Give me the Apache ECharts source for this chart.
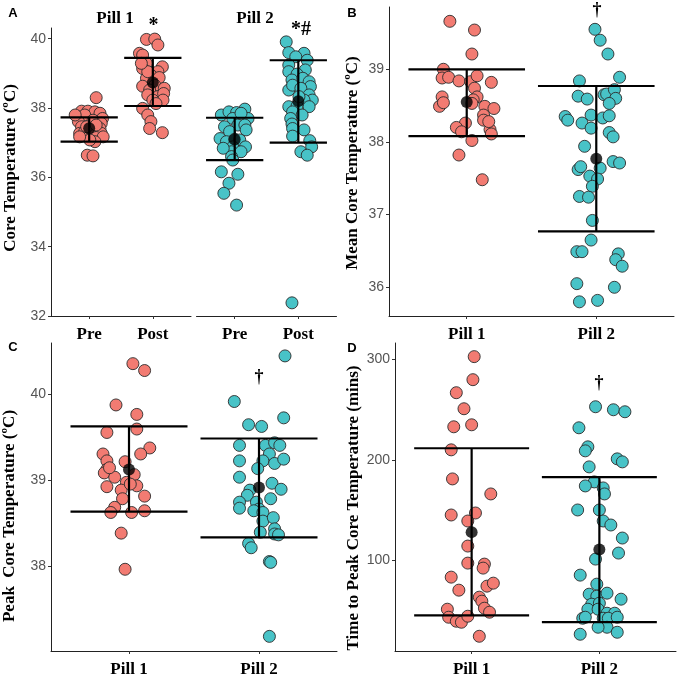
<!DOCTYPE html>
<html>
<head>
<meta charset="utf-8">
<script src="https://cdn.jsdelivr.net/npm/echarts@6/dist/echarts.min.js"></script>
<style>html,body{margin:0;padding:0;background:#fff}#chart{width:680px;height:676px}</style>
</head>
<body>
<div id="chart"></div>
<script>
// ---- panel A: core temperature, pre / post, per pill ----
const aCats = ['Pre', 'Post'];
const aP1PreVal = [38.30,37.91,37.91,37.89,37.85,37.75,37.80,37.70,37.61,37.65,37.56,37.46,37.41,37.27,37.32,37.27,37.27,37.15,37.17,37.03,37.08,36.64,36.62,37.17,37.46,37.51,37.80];
const aP1PreJit = [0.11,-0.12,-0.02,0.09,0.17,-0.17,-0.07,0.21,-0.17,0.06,0.19,-0.12,0.17,-0.15,-0.07,0.06,0.19,0.11,0.22,0.09,0.01,-0.03,0.06,-0.15,-0.04,0.11,-0.22];
const aP1PostVal = [39.98,39.99,39.82,39.58,39.53,39.29,39.14,39.19,39.05,38.95,38.88,38.86,38.63,38.66,38.57,38.52,38.38,38.33,38.42,38.23,38.23,37.99,37.80,37.61,37.41,37.29,38.13,39.05,39.29];
const aP1PostJit = [-0.10,0.03,0.08,-0.21,-0.16,-0.10,-0.16,0.15,0.08,-0.03,0.10,-0.10,-0.16,0.03,0.18,-0.05,-0.08,0.08,0.17,0.16,0.00,-0.16,-0.08,-0.03,-0.05,0.15,0.05,-0.08,-0.18];
const aP2PreVal = [37.97,37.80,37.89,37.87,37.70,37.70,37.46,37.51,37.51,37.32,37.37,37.12,37.03,37.10,37.08,36.88,36.88,36.74,36.74,36.84,36.60,36.50,36.16,36.09,35.83,35.54,35.20,37.85];
const aP2PreJit = [0.16,-0.21,-0.09,0.03,-0.03,0.21,-0.16,0.05,0.16,-0.08,0.18,-0.23,-0.13,0.00,0.08,0.17,-0.03,-0.05,0.10,-0.18,-0.05,-0.03,-0.21,0.05,-0.09,-0.17,0.03,0.10];
const aP2PostVal = [39.91,39.60,39.58,39.48,39.38,39.24,39.10,39.05,38.98,38.81,38.86,38.76,38.62,38.52,38.66,38.57,38.38,38.23,38.23,38.04,38.06,38.04,37.89,37.80,37.70,37.54,37.37,37.41,37.19,37.06,36.88,36.74,36.64,32.38,38.33];
const aP2PostJit = [-0.19,-0.15,0.09,-0.04,0.14,-0.15,0.11,-0.15,-0.02,-0.10,0.07,0.17,0.19,-0.15,-0.09,0.04,0.17,0.22,0.09,-0.15,-0.02,0.17,-0.09,0.06,-0.12,-0.10,0.09,-0.09,-0.09,0.18,0.21,0.04,0.14,-0.10,0.01];
// mean and error bar ends: P1 Pre, P1 Post, P2 Pre, P2 Post
const aMean = [37.42, 38.74, 37.09, 38.20];
const aLow = [37.03, 38.06, 36.50, 37.00];
const aHigh = [37.73, 39.45, 37.72, 39.38];
const aTicks = [32, 34, 36, 38, 40];

// ---- panel B: mean core temperature ----
const pillCats = ['Pill 1', 'Pill 2'];
const bP1Val = [39.66,39.54,39.21,39.00,38.88,38.89,38.84,38.83,38.91,38.82,38.74,38.62,38.62,38.49,38.54,38.58,38.53,38.49,38.46,38.37,38.30,38.26,38.20,38.14,38.17,38.11,38.02,37.82,37.48,38.28];
const bP1Jit = [-0.13,0.06,0.04,-0.18,-0.19,-0.14,-0.06,0.03,0.08,0.19,0.06,0.08,-0.19,-0.21,-0.18,0.05,0.04,0.14,0.21,0.13,0.13,-0.01,-0.08,-0.04,0.18,0.19,0.04,-0.06,0.12,0.17];
const bP2Val = [39.55,39.40,39.21,38.89,38.84,38.63,38.59,38.65,38.66,38.72,38.60,38.53,38.35,38.30,38.26,38.37,38.19,38.33,38.36,38.13,38.07,37.94,37.62,37.66,37.53,37.64,37.49,37.39,37.73,37.71,37.25,37.24,36.92,36.65,36.49,36.49,36.46,36.38,36.29,36.05,36.00,35.80,35.82];
const bP2Jit = [-0.01,0.03,0.09,0.18,-0.13,-0.14,-0.07,0.06,0.08,0.14,0.15,0.10,-0.24,-0.22,-0.11,-0.04,-0.04,0.05,0.10,0.10,0.13,-0.09,-0.14,-0.12,-0.05,0.03,0.01,-0.03,0.13,0.18,-0.13,-0.06,-0.03,-0.04,-0.15,-0.11,0.17,0.15,0.20,-0.15,0.14,-0.13,0.01];
const bMean = [38.55, 37.77];
const bLow = [38.08, 36.77];
const bHigh = [39.00, 38.77];
const bTicks = [36, 37, 38, 39];

// ---- panel C: peak core temperature ----
const cP1Val = [40.35,40.27,39.87,39.76,39.59,39.55,39.37,39.30,39.30,39.22,39.21,39.12,39.08,39.03,39.06,38.97,38.92,38.93,38.88,38.78,38.81,38.68,38.62,38.62,38.64,38.38,37.96,38.95,39.14];
const cP1Jit = [0.03,0.12,-0.10,0.06,0.06,-0.17,0.16,0.09,-0.20,-0.17,-0.03,-0.17,-0.19,-0.11,0.04,-0.02,-0.17,0.06,-0.06,-0.05,0.12,-0.11,-0.14,0.02,0.12,-0.06,-0.03,0.01,-0.15];
const cP2Val = [40.44,39.91,39.72,39.64,39.62,39.40,39.40,39.43,39.40,39.30,39.22,39.22,39.19,39.24,39.13,39.03,38.96,38.88,38.82,38.89,38.78,38.74,38.67,38.74,38.66,38.64,38.62,38.52,38.56,38.43,38.39,38.37,38.26,38.21,38.05,38.04,37.18,38.36];
const cP2Jit = [0.20,-0.19,0.19,-0.08,0.02,-0.15,0.05,0.12,0.16,0.08,-0.15,0.03,0.12,0.19,-0.01,-0.15,0.10,-0.07,-0.09,0.17,0.09,-0.15,-0.15,-0.02,0.00,-0.04,0.03,0.03,0.11,0.12,0.01,0.12,-0.08,-0.06,0.08,0.09,0.08,0.15];
const cMean = [39.12, 38.91];
const cLow = [38.63, 38.33];
const cHigh = [39.62, 39.48];
const cTicks = [38, 39, 40];

// ---- panel D: time to peak core temperature (mins) ----
const dP1Val = [303,280,267,251,233,235,210,181,166,145,147,139,114,97,96,92,83,74,77,70,63,59,52,48,51,43,39,38,44,24];
const dP1Jit = [0.02,0.01,-0.12,-0.06,-0.14,0.00,-0.16,-0.15,0.15,-0.16,0.03,-0.03,-0.03,-0.03,0.10,0.09,-0.16,0.12,0.17,-0.10,0.06,0.08,0.10,0.14,-0.19,-0.18,-0.12,-0.08,-0.03,0.06];
const dP2Val = [253,250,248,232,213,209,201,198,193,178,174,172,166,150,150,139,135,122,107,101,85,76,66,64,67,61,56,57,51,51,47,47,42,42,42,43,33,33,26,28,43];
const dP2Jit = [-0.03,0.11,0.20,-0.16,-0.09,-0.11,0.14,0.18,-0.08,-0.04,-0.11,0.03,0.04,-0.17,0.00,0.03,0.09,0.18,0.15,-0.03,-0.15,-0.02,-0.08,-0.02,0.06,0.17,-0.06,0.00,-0.09,-0.01,0.06,0.12,-0.13,0.03,0.07,0.14,0.06,-0.01,-0.15,0.14,-0.11];
const dMean = [127.9, 110.6];
const dLow = [44.8, 38.2];
const dHigh = [211.6, 182.7];
const dTicks = [100, 200, 300];

const RED = '#F27B72', TEAL = '#48C3C7';
const HALF = 0.45; // half width of the error bar whiskers
const SERIF = '"Liberation Serif", "DejaVu Serif", serif';
const SANS = '"Liberation Sans", Arial, sans-serif';

function pts(cat, vals, jit) {
	return vals.map(function (v, i) { return [cat + jit[i], v]; });
}
function summary(cats, mean, lo, hi) {
	return cats.map(function (c, i) { return [c, lo[i], hi[i], mean[i]]; });
}

function renderBar(params, api) {
	const x = api.value(0), lo = api.value(1), hi = api.value(2);
	const t = api.coord([x, hi]), b = api.coord([x, lo]);
	const tl = api.coord([x - HALF, hi]), tr = api.coord([x + HALF, hi]);
	const bl = api.coord([x - HALF, lo]), br = api.coord([x + HALF, lo]);
	const st = {stroke: '#000', lineWidth: 2.2};
	return {type: 'group', children: [
		{type: 'line', shape: {x1: t[0], y1: t[1], x2: b[0], y2: b[1]}, style: st},
		{type: 'line', shape: {x1: tl[0], y1: tl[1], x2: tr[0], y2: tr[1]}, style: st},
		{type: 'line', shape: {x1: bl[0], y1: bl[1], x2: br[0], y2: br[1]}, style: st}
	]};
}

function dots(gi, data, color) {
	return {type: 'scatter', xAxisIndex: gi, yAxisIndex: gi, data: data, symbolSize: 12, silent: true, z: 2,
		itemStyle: {color: color, borderColor: '#2b2b2b', borderWidth: 0.9, opacity: 1}};
}
function bars(gi, rows) {
	return {type: 'custom', xAxisIndex: gi, yAxisIndex: gi, data: rows, renderItem: renderBar, silent: true, z: 3,
		encode: {x: 0, y: [1, 2]}};
}
function means(gi, rows) {
	return {type: 'scatter', xAxisIndex: gi, yAxisIndex: gi, silent: true, z: 4, symbolSize: 12,
		data: rows.map(function (r) { return [r[0], r[3]]; }), itemStyle: {color: '#000'}};
}

function xAx(gi, cats) {
	return {type: 'value', gridIndex: gi, min: 0.4, max: 2.6,
		axisLine: {onZero: false, lineStyle: {color: '#222', width: 1}},
		axisTick: {customValues: [1, 2], length: 3, lineStyle: {color: '#333'}},
		axisLabel: {customValues: [1, 2], formatter: function (v) { return cats[Math.round(v) - 1]; },
			fontFamily: SERIF, fontWeight: 'bold', fontSize: 17, color: '#000', margin: 10},
		splitLine: {show: false}};
}
function yAx(gi, min, max, ticks, hidden) {
	return {type: 'value', gridIndex: gi, min: min, max: max, show: !hidden,
		axisLine: {show: true, onZero: false, lineStyle: {color: '#222', width: 1}},
		axisTick: {show: true, customValues: ticks, length: 3, lineStyle: {color: '#333'}},
		axisLabel: {customValues: ticks, fontFamily: SANS, fontSize: 14, color: '#555', margin: 5},
		splitLine: {show: false}};
}

function txt(x, y, text, size, family, rot) {
	return {type: 'text', x: x, y: y, rotation: rot || 0, z: 10,
		style: {text: text, font: 'bold ' + size + 'px ' + family, fill: '#000', align: 'center', verticalAlign: 'middle'}};
}

const aRows1 = summary([1, 2], aMean.slice(0, 2), aLow.slice(0, 2), aHigh.slice(0, 2));
const aRows2 = summary([1, 2], aMean.slice(2), aLow.slice(2), aHigh.slice(2));
const bRows = summary([1, 2], bMean, bLow, bHigh);
const cRows = summary([1, 2], cMean, cLow, cHigh);
const dRows = summary([1, 2], dMean, dLow, dHigh);

const option = {
	backgroundColor: '#fff',
	animation: false,
	grid: [
		{left: 51, top: 28, width: 140, height: 288, outerBoundsMode: 'none'},
		{left: 196.5, top: 28, width: 140, height: 288, outerBoundsMode: 'none'},
		{left: 389, top: 7, width: 285, height: 309, outerBoundsMode: 'none'},
		{left: 51, top: 343, width: 286, height: 308, outerBoundsMode: 'none'},
		{left: 395, top: 343, width: 281, height: 308, outerBoundsMode: 'none'}
	],
	xAxis: [xAx(0, aCats), xAx(1, aCats), xAx(2, pillCats), xAx(3, pillCats), xAx(4, pillCats)],
	yAxis: [
		yAx(0, 32, 40.31, aTicks),
		yAx(1, 32, 40.31, aTicks, true),
		yAx(2, 35.605, 39.857, bTicks),
		yAx(3, 37.01, 40.59, cTicks),
		yAx(4, 9.3, 316.6, dTicks)
	],
	series: [
		dots(0, pts(1, aP1PreVal, aP1PreJit), RED),
		dots(0, pts(2, aP1PostVal, aP1PostJit), RED),
		dots(1, pts(1, aP2PreVal, aP2PreJit), TEAL),
		dots(1, pts(2, aP2PostVal, aP2PostJit), TEAL),
		bars(0, aRows1), means(0, aRows1),
		bars(1, aRows2), means(1, aRows2),

		dots(2, pts(1, bP1Val, bP1Jit), RED),
		dots(2, pts(2, bP2Val, bP2Jit), TEAL),
		bars(2, bRows), means(2, bRows),

		dots(3, pts(1, cP1Val, cP1Jit), RED),
		dots(3, pts(2, cP2Val, cP2Jit), TEAL),
		bars(3, cRows), means(3, cRows),

		dots(4, pts(1, dP1Val, dP1Jit), RED),
		dots(4, pts(2, dP2Val, dP2Jit), TEAL),
		bars(4, dRows), means(4, dRows)
	],
	graphic: [
		// panel letters
		txt(13, 13, 'A', 13, SANS), txt(352, 13, 'B', 13, SANS),
		txt(13, 347, 'C', 13, SANS), txt(352, 348, 'D', 13, SANS),
		// facet strips of panel A
		txt(115, 19, 'Pill 1', 17, SERIF), txt(255, 19, 'Pill 2', 17, SERIF),
		// significance marks
		txt(153.5, 26, '*', 20, SERIF), txt(301, 30, '*#', 20, SERIF),
		txt(597, 10, '†', 18, SERIF), txt(259, 377, '†', 18, SERIF), txt(599, 383, '†', 18, SERIF),
		// y axis titles
		txt(11, 168, 'Core Temperature (ºC)', 17, SERIF, Math.PI / 2),
		txt(353, 163, 'Mean Core Temperature (ºC)', 17, SERIF, Math.PI / 2),
		txt(10, 516, 'Peak  Core Temperature (ºC)', 17, SERIF, Math.PI / 2),
		txt(354, 508, 'Time to Peak Core Temperature (mins)', 17, SERIF, Math.PI / 2)
	]
};

const myChart = echarts.init(document.getElementById('chart'));
myChart.setOption(option);
</script>
</body>
</html>
